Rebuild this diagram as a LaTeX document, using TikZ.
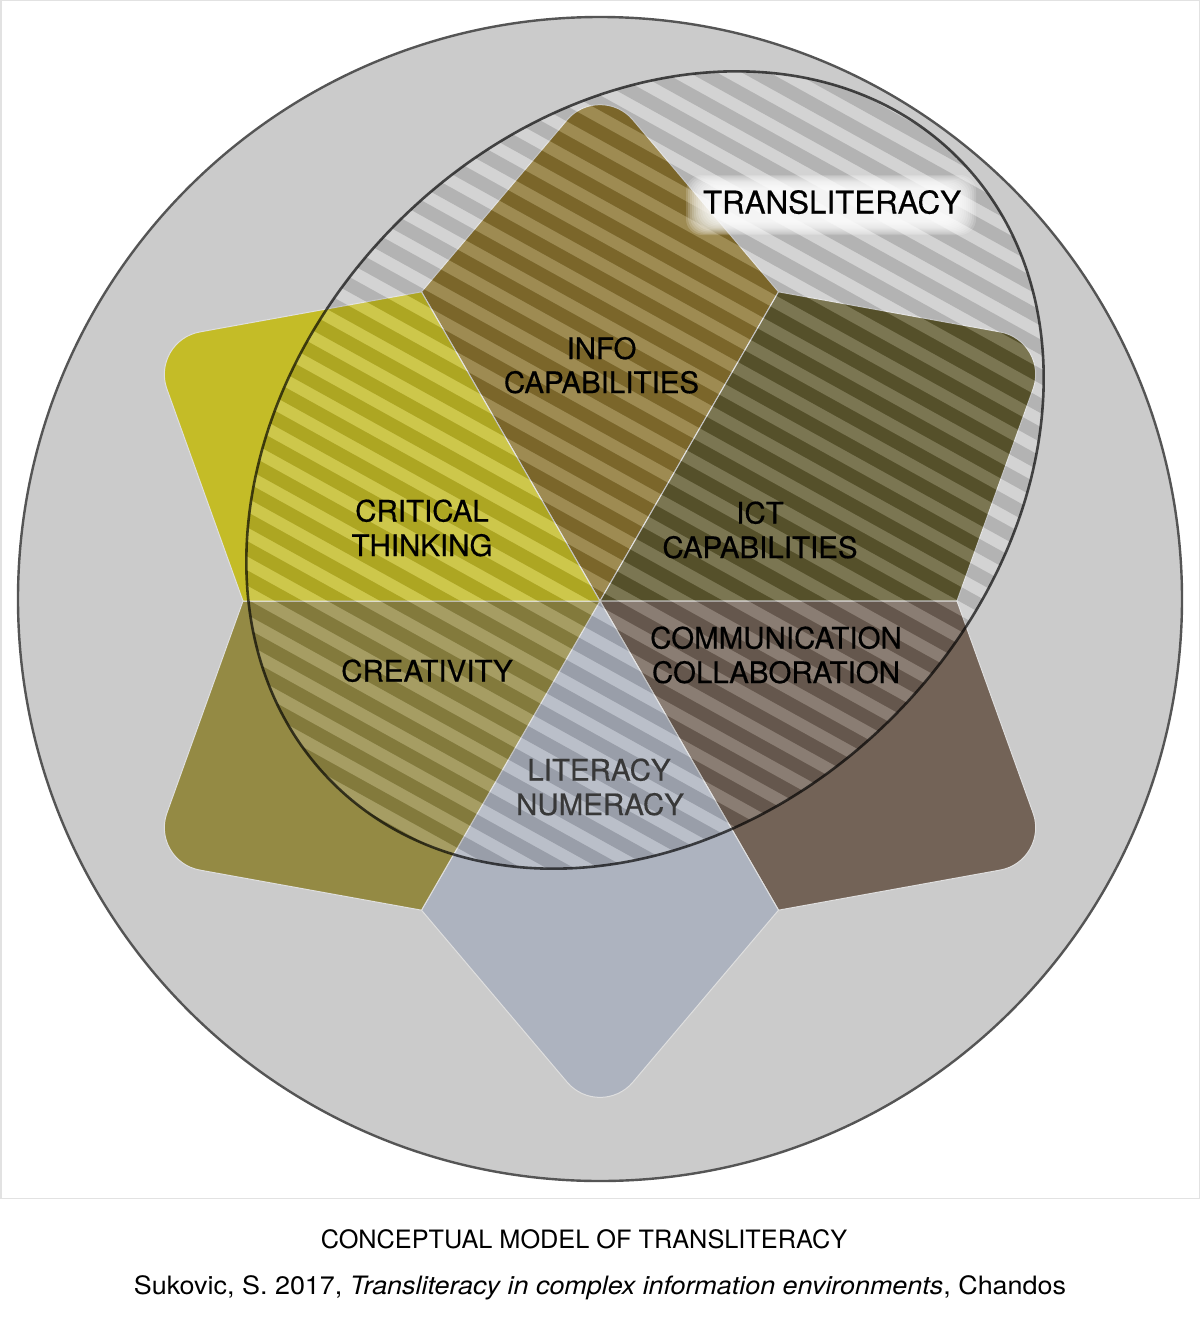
\documentclass[tikz,border=0pt]{standalone}
\usepackage{fontspec}
\setmainfont{TeX Gyre Heros}
\newfontfamily\lblfont{TeX Gyre Heros}[FakeBold=0.45]
\usetikzlibrary{calc}
\definecolor{bgray}{HTML}{CBCBCB}
\definecolor{cline}{HTML}{555555}
\definecolor{cinfo}{HTML}{8B7430}
\definecolor{cict}{HTML}{615B30}
\definecolor{ccomm}{HTML}{736357}
\definecolor{clit}{HTML}{ADB3BF}
\definecolor{ccrea}{HTML}{948A44}
\definecolor{ccrit}{HTML}{C4BC27}
\definecolor{framecol}{HTML}{E2E2E2}
\definecolor{littext}{HTML}{383838}
\tikzset{
  lbl/.style={font=\lblfont\fontsize{29.5}{34}\selectfont, text=black, inner sep=0pt, anchor=base},
  captxt/.style={font=\fontsize{25.3}{30}\selectfont, text=black, inner sep=0pt, anchor=base},
  petalfill/.style={fill=#1, draw=white!75!gray, line width=1pt, line join=round},
  ellshape/.style={rotate around={45:(645,470)}},
}
\newcommand\drawpetal[2]{%
  \pgfmathsetmacro\pA{#1-30}%
  \pgfmathsetmacro\pB{#1+30}%
  \coordinate (pc) at (600,601);
  \coordinate (ph1) at ($(pc)+(\pA:357)$);
  \coordinate (ph2) at ($(pc)+(\pB:357)$);
  \coordinate (pap) at ($(pc)+(#1:520)$);
  \fill[petalfill=#2] (pc) -- (ph1) -- ($(pap)!50.9pt!(ph1)$)
    .. controls ($(pap)!24.3pt!(ph1)$) and ($(pap)!24.3pt!(ph2)$) ..
    ($(pap)!50.9pt!(ph2)$) -- (ph2) -- cycle;
}
\begin{document}
\begin{tikzpicture}[x=1pt,y=-1pt]
\useasboundingbox (0,0) rectangle (1200,1322);
\fill[white] (0,0) rectangle (1200,1322);
% frame
\draw[framecol, line width=1.5pt] (0.75,0.75) rectangle (1199.25,1198.5);
% big circle
\draw[fill=bgray, draw=cline, line width=2.4pt] (600,599) circle [radius=582];
% petals
\drawpetal{-90}{cinfo}
\drawpetal{-30}{cict}
\drawpetal{30}{ccomm}
\drawpetal{90}{clit}
\drawpetal{150}{ccrea}
\drawpetal{210}{ccrit}
% hatched ellipse
\begin{scope}
  \clip[ellshape] (645,470) ellipse [x radius=442, y radius=350];
  \begin{scope}[rotate around={-29:(645,470)}]
    \foreach \i in {-23,...,23} {
      \fill[black, opacity=0.115] (45,470+25.5*\i) rectangle ++(1200,13.5);
      \fill[white, opacity=0.17] (45,483.5+25.5*\i) rectangle ++(1200,12);
    }
  \end{scope}
\end{scope}
\draw[ellshape, black, opacity=0.68, line width=2.6pt] (645,470) ellipse [x radius=442, y radius=350];
% glow behind TRANSLITERACY
\foreach \k in {0,...,11} {
  \fill[white, opacity=0.17, rounded corners=16pt] (686+2*\k,175+1.2*\k) rectangle (976-2*\k,235-1.2*\k);
}
% labels
\node[lbl, font=\lblfont\fontsize{31.3}{36}\selectfont] (trans) at (832,213.5) {TRANSLITERACY};
\node[lbl] (info1) at (601.5,359) {INFO};
\node[lbl] (info2) at (601.5,393) {CAPABILITIES};
\node[lbl] (crit1) at (422,521.5) {CRITICAL};
\node[lbl] (crit2) at (422,556) {THINKING};
\node[lbl] (ict1) at (760,523.5) {ICT};
\node[lbl] (ict2) at (760,558) {CAPABILITIES};
\node[lbl] (comm1) at (776,648.5) {COMMUNICATION};
\node[lbl] (comm2) at (776,683) {COLLABORATION};
\node[lbl] (crea) at (427,681.5) {CREATIVITY};
\node[lbl, text=littext] (lit1) at (599,780.5) {LITERACY};
\node[lbl, text=littext] (lit2) at (600,815) {NUMERACY};
% caption
\node[captxt] (cap1) at (584,1248.3) {CONCEPTUAL MODEL OF TRANSLITERACY};
\node[captxt] (cap2) at (600,1294.3) {\scalebox{1.065}[1]{Sukovic, S. 2017, \textit{Transliteracy in complex information environments}, Chandos}};
\end{tikzpicture}
\end{document}
